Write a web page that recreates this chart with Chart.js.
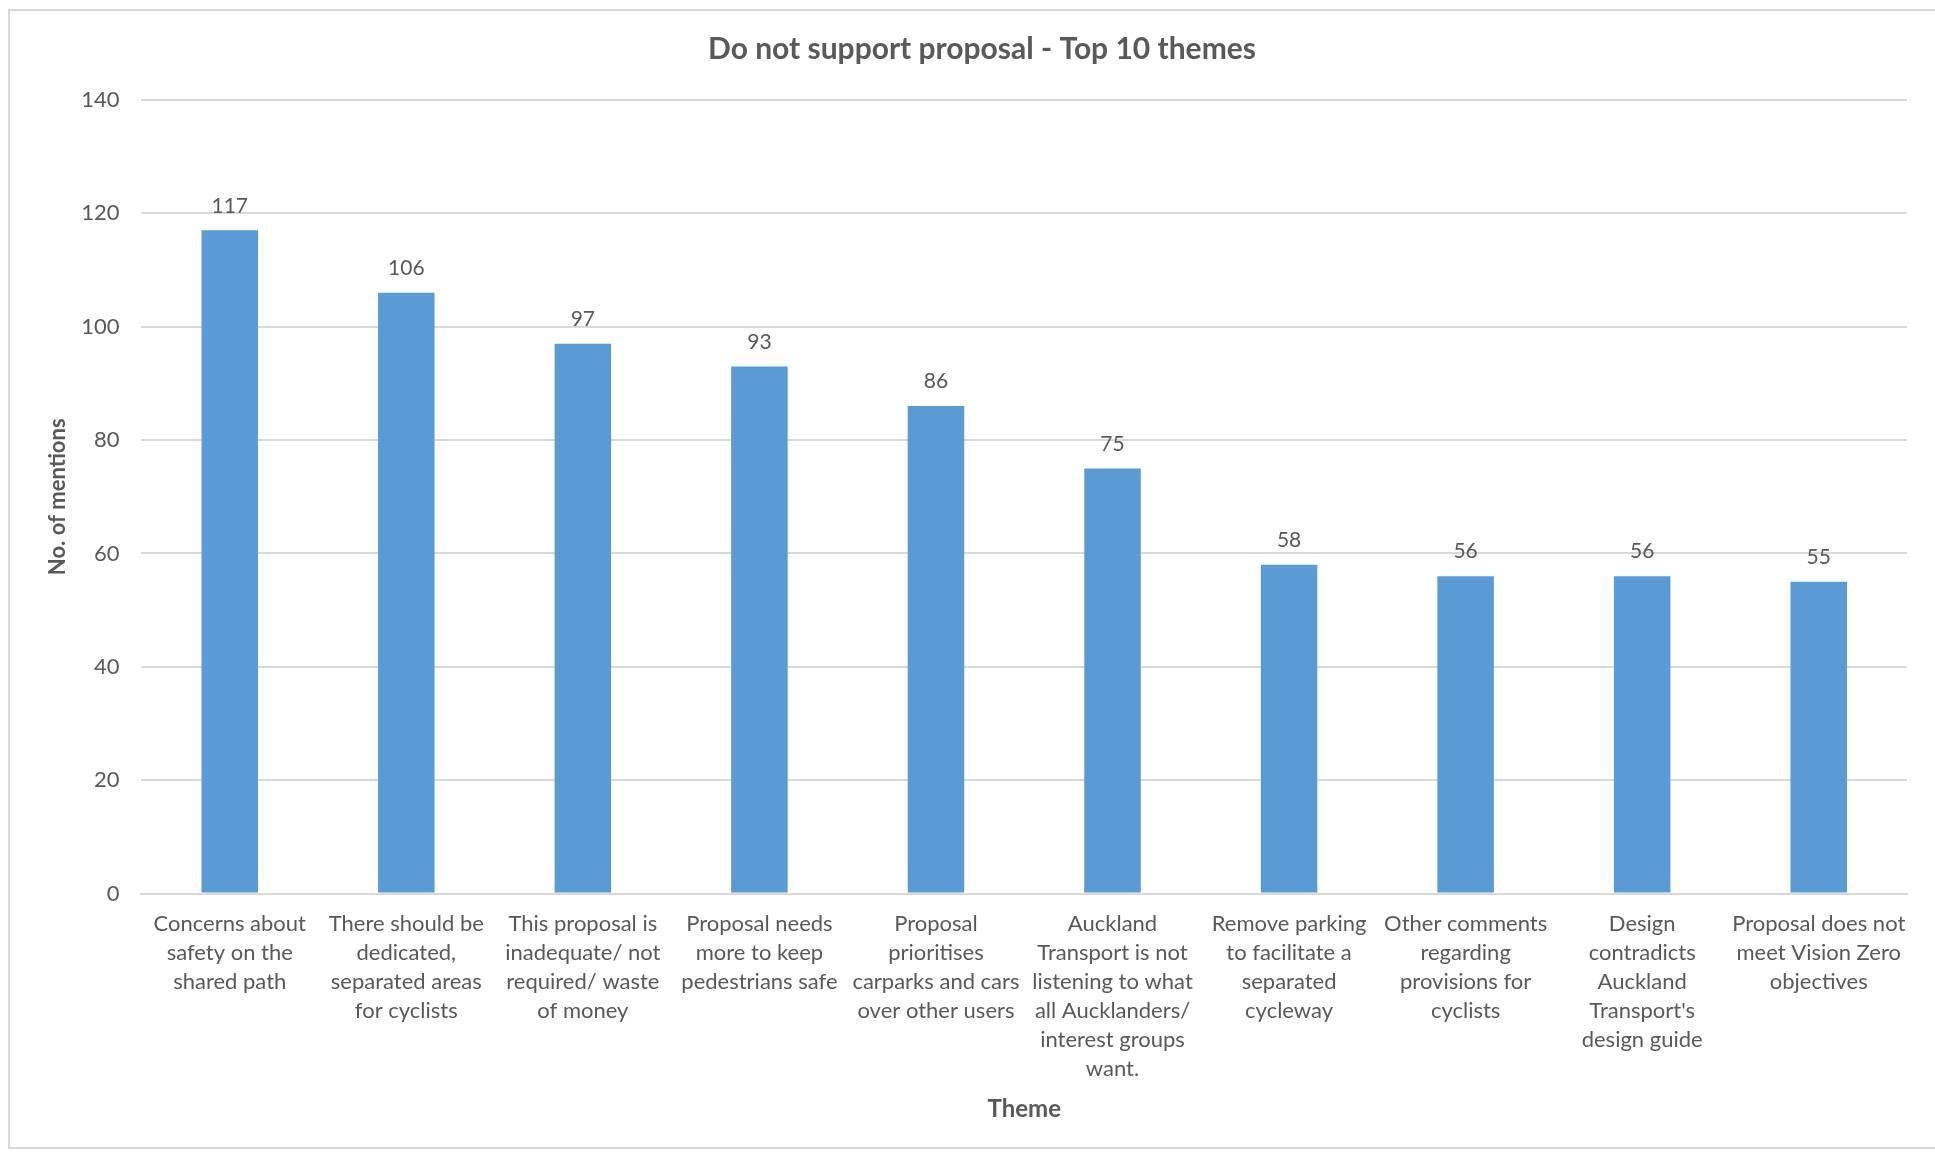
<!DOCTYPE html>
<html lang="en">
<head>
    <meta charset="UTF-8">
    <title>Do not support proposal - Top 10 themes</title>
    <style>
        body {
            margin: 0;
            background: #fff;
            font-family: Lato, Arial, sans-serif;
        }
        .frame {
            position: absolute;
            left: 8px;
            top: 9px;
            width: 1940px;
            height: 1140px;
            border: 2px solid #d9d9d9;
            box-sizing: border-box;
        }
        .box {
            position: absolute;
            left: 10px;
            top: 11px;
            width: 1925px;
            height: 1137px;
        }
    </style>
</head>
<body>
    <div class="frame"></div>
    <div class="box"><canvas id="chart"></canvas></div>

    <script src="https://cdn.jsdelivr.net/npm/chart.js"></script>
    <script>
        const themes = [
            ['Concerns about', 'safety on the', 'shared path'],
            ['There should be', 'dedicated,', 'separated areas', 'for cyclists'],
            ['This proposal is', 'inadequate/ not', 'required/ waste', 'of money'],
            ['Proposal needs', 'more to keep', 'pedestrians safe'],
            ['Proposal', 'prioritises', 'carparks and cars', 'over other users'],
            ['Auckland', 'Transport is not', 'listening to what', 'all Aucklanders/', 'interest groups', 'want.'],
            ['Remove parking', 'to facilitate a', 'separated', 'cycleway'],
            ['Other comments', 'regarding', 'provisions for', 'cyclists'],
            ['Design', 'contradicts', 'Auckland', "Transport's", 'design guide'],
            ['Proposal does not', 'meet Vision Zero', 'objectives']
        ];
        const mentions = [117, 106, 97, 93, 86, 75, 58, 56, 56, 55];
        const yTicks = [0, 20, 40, 60, 80, 100, 120, 140];

        const textColor = '#595959';
        const gridColor = '#d9d9d9';
        const fontName = 'Lato, Arial, sans-serif';

        // value labels above each bar
        const valueLabels = {
            id: 'valueLabels',
            afterDatasetsDraw(chart) {
                const ctx = chart.ctx;
                const meta = chart.getDatasetMeta(0);
                ctx.save();
                ctx.font = '21px ' + fontName;
                ctx.fillStyle = textColor;
                ctx.textAlign = 'center';
                ctx.textBaseline = 'bottom';
                meta.data.forEach((bar, i) => {
                    ctx.fillText(String(mentions[i]), bar.x, bar.y - 14);
                });
                ctx.restore();
            }
        };

        new Chart(document.getElementById('chart'), {
            type: 'bar',
            data: {
                labels: themes,
                datasets: [{
                    label: 'No. of mentions',
                    data: mentions,
                    backgroundColor: '#5b9bd5',
                    borderWidth: 0,
                    categoryPercentage: 1,
                    barPercentage: 0.32
                }]
            },
            options: {
                responsive: true,
                maintainAspectRatio: false,
                animation: false,
                layout: {
                    padding: { left: 47, right: 28, top: 0, bottom: 29 }
                },
                plugins: {
                    legend: { display: false },
                    tooltip: { enabled: false },
                    title: {
                        display: true,
                        text: 'Do not support proposal - Top 10 themes',
                        color: textColor,
                        font: { family: fontName, size: 30, weight: 'bold', lineHeight: 1.2 },
                        padding: { top: 20, bottom: 33 }
                    }
                },
                scales: {
                    x: {
                        grid: { display: false, drawTicks: false },
                        border: { color: gridColor, width: 2 },
                        ticks: {
                            color: textColor,
                            font: { family: fontName, size: 22, lineHeight: 1.32 },
                            maxRotation: 0,
                            autoSkip: false,
                            padding: 16
                        },
                        title: {
                            display: true,
                            text: 'Theme',
                            color: textColor,
                            font: { family: fontName, size: 24, weight: 'bold', lineHeight: 0.8 },
                            padding: { top: 0, bottom: 0 }
                        }
                    },
                    y: {
                        min: 0,
                        max: 140,
                        afterBuildTicks(axis) {
                            axis.ticks = yTicks.map(v => ({ value: v }));
                        },
                        grid: { color: gridColor, lineWidth: 2, drawTicks: false },
                        border: { display: false },
                        ticks: {
                            color: textColor,
                            font: { family: fontName, size: 22 },
                            padding: 22
                        },
                        title: {
                            display: true,
                            text: 'No. of mentions',
                            color: textColor,
                            font: { family: fontName, size: 22, weight: 'bold', lineHeight: 0.1 },
                            padding: { top: 0, bottom: 0 }
                        }
                    }
                }
            },
            plugins: [valueLabels]
        });
    </script>
</body>
</html>
